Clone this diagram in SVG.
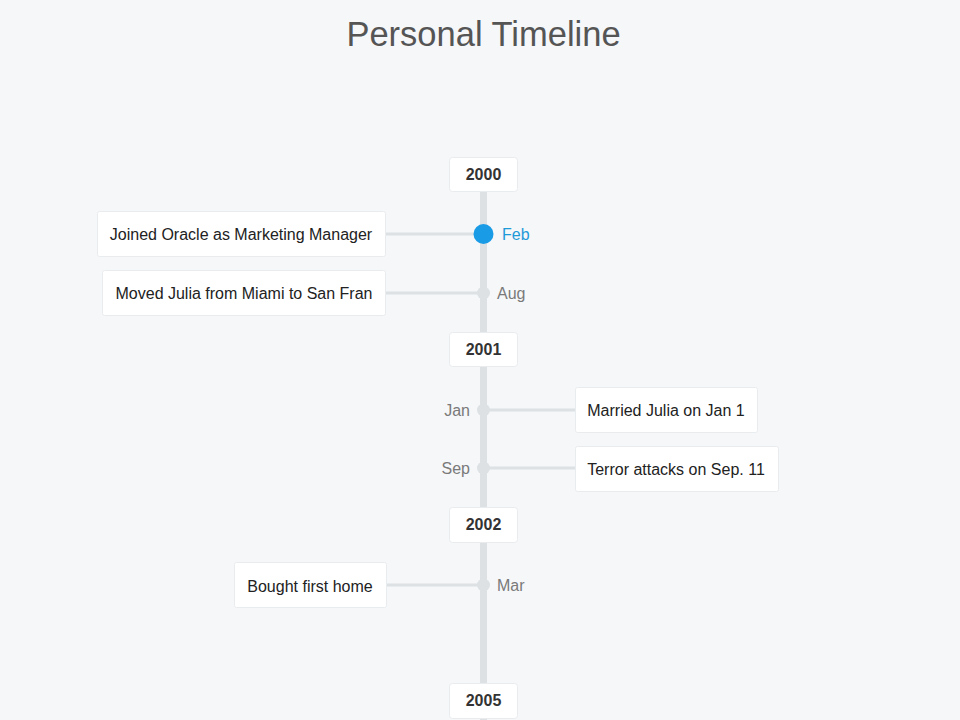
<svg xmlns="http://www.w3.org/2000/svg" width="960" height="720" viewBox="0 0 960 720">
<style>
.bg{fill:#f5f7f9}
.axis{stroke:#dde1e3;stroke-width:7}
.conn{stroke:#dde1e3;stroke-width:3}
.box{fill:#ffffff;stroke:#e9ecee;stroke-width:1}
.ytxt{font-family:"Liberation Sans",Arial,sans-serif;font-size:16px;font-weight:bold;fill:#333333;text-anchor:middle}
.etxt{font-family:"Liberation Sans",Arial,sans-serif;font-size:16px;fill:#222222;text-anchor:middle}
.mtxt{font-family:"Liberation Sans",Arial,sans-serif;font-size:16px;fill:#7a7a7a}
.dot{fill:#dde1e3}
.title{font-family:"Liberation Sans",Arial,sans-serif;font-size:34.5px;fill:#555555;text-anchor:middle}
</style>
<rect class="bg" x="0" y="0" width="960" height="720"/>
<text class="title" x="483.5" y="46">Personal Timeline</text>
<g id="connectors">
<line class="axis" x1="483.5" y1="190" x2="483.5" y2="720"/>
<line class="conn" x1="385" y1="234" x2="483" y2="234"/>
<line class="conn" x1="385" y1="293" x2="483" y2="293"/>
<line class="conn" x1="483" y1="410" x2="575" y2="410"/>
<line class="conn" x1="483" y1="468" x2="575" y2="468"/>
<line class="conn" x1="386" y1="585" x2="483" y2="585"/>
</g>
<g id="year2000"><rect class="box" x="449.5" y="157.5" width="68" height="34" rx="3"/><text class="ytxt" x="483.5" y="180">2000</text></g>
<g id="year2001"><rect class="box" x="449.5" y="332.5" width="68" height="34" rx="3"/><text class="ytxt" x="483.5" y="355">2001</text></g>
<g id="year2002"><rect class="box" x="449.5" y="507.5" width="68" height="35" rx="3"/><text class="ytxt" x="483.5" y="530">2002</text></g>
<g id="year2005"><rect class="box" x="449.5" y="683.5" width="68" height="35" rx="3"/><text class="ytxt" x="483.5" y="706">2005</text></g>
<g id="evt-feb2000">
<rect class="box" x="97.5" y="211.5" width="288" height="45" rx="2"/>
<text class="etxt" x="241" y="240">Joined Oracle as Marketing Manager</text>
<circle cx="483.5" cy="234" r="10" fill="#1a9be6"/>
<text class="mtxt" x="502" y="240" style="fill:#1f9ad8">Feb</text>
</g>
<g id="evt-aug2000">
<rect class="box" x="102.5" y="270.5" width="283" height="45" rx="2"/>
<text class="etxt" x="244" y="299">Moved Julia from Miami to San Fran</text>
<circle class="dot" cx="483.5" cy="293" r="6.5"/>
<text class="mtxt" x="497" y="299">Aug</text>
</g>
<g id="evt-jan2001">
<rect class="box" x="575.5" y="387.5" width="182" height="45" rx="2"/>
<text class="etxt" x="666" y="416">Married Julia on Jan 1</text>
<circle class="dot" cx="483.5" cy="410" r="6.5"/>
<text class="mtxt" x="470" y="416" style="text-anchor:end">Jan</text>
</g>
<g id="evt-sep2001">
<rect class="box" x="575.5" y="446.5" width="203" height="45" rx="2"/>
<text class="etxt" x="676" y="475">Terror attacks on Sep. 11</text>
<circle class="dot" cx="483.5" cy="468" r="6.5"/>
<text class="mtxt" x="470" y="474" style="text-anchor:end">Sep</text>
</g>
<g id="evt-mar2002">
<rect class="box" x="234.5" y="562.5" width="152" height="45" rx="2"/>
<text class="etxt" x="310" y="592">Bought first home</text>
<circle class="dot" cx="483.5" cy="585" r="6.5"/>
<text class="mtxt" x="497" y="591">Mar</text>
</g>
</svg>
